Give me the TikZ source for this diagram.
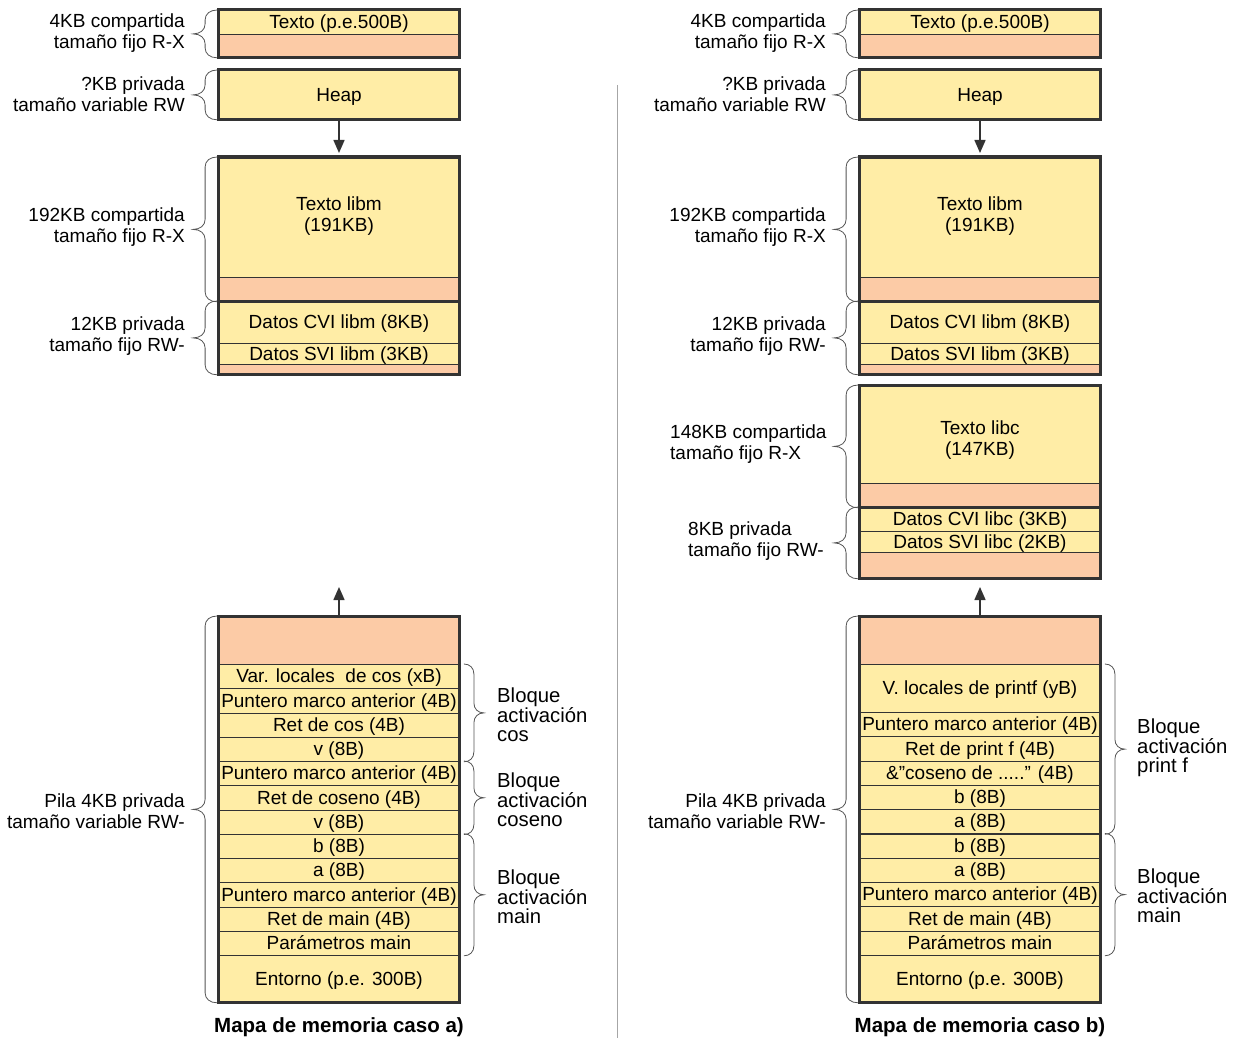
\documentclass[tikz,border=0pt]{standalone}
\usepackage{fontspec}
\setmainfont{Liberation Sans}
\usepackage{xcolor}
\usetikzlibrary{arrows.meta, positioning, decorations.pathreplacing}

\definecolor{amarillo}{HTML}{FFEDA6}
\definecolor{salmon}{HTML}{FCCBA6}
\definecolor{borde}{HTML}{333333}
\definecolor{gris}{HTML}{555555}

\newcommand{\txtcoseno}{\&”coseno de .....” (4B)}

% llave con curvas cortas y punta profunda
\pgfdeclaredecoration{llave}{llave}{%
  \state{llave}[width=+\pgfdecoratedremainingdistance, next state=final]{%
    \pgfpathmoveto{\pgfpointorigin}%
    \pgfpathcurveto{\pgfqpoint{0pt}{.3\pgfdecorationsegmentamplitude}}%
      {\pgfqpoint{4pt}{.5\pgfdecorationsegmentamplitude}}%
      {\pgfqpoint{10pt}{.5\pgfdecorationsegmentamplitude}}%
    {\pgftransformxshift{+.5\pgfdecoratedremainingdistance}%
      \pgfpathlineto{\pgfqpoint{-10pt}{.5\pgfdecorationsegmentamplitude}}%
      \pgfpathcurveto{\pgfqpoint{-4pt}{.5\pgfdecorationsegmentamplitude}}%
        {\pgfqpoint{0pt}{.7\pgfdecorationsegmentamplitude}}%
        {\pgfqpoint{0pt}{\pgfdecorationsegmentamplitude}}%
      \pgfpathcurveto{\pgfqpoint{0pt}{.7\pgfdecorationsegmentamplitude}}%
        {\pgfqpoint{4pt}{.5\pgfdecorationsegmentamplitude}}%
        {\pgfqpoint{10pt}{.5\pgfdecorationsegmentamplitude}}%
    }%
    {\pgftransformxshift{+\pgfdecoratedremainingdistance}%
      \pgfpathlineto{\pgfqpoint{-10pt}{.5\pgfdecorationsegmentamplitude}}%
      \pgfpathcurveto{\pgfqpoint{-4pt}{.5\pgfdecorationsegmentamplitude}}%
        {\pgfqpoint{0pt}{.3\pgfdecorationsegmentamplitude}}%
        {\pgfpointorigin}%
    }%
  }%
  \state{final}{\pgfpathmoveto{\pgfpointdecoratedpathlast}}%
}

\begin{document}
\begin{tikzpicture}[x=1pt, y=-1pt,
  celda/.style={draw=borde, line width=0.8pt, fill=amarillo, minimum width=241pt,
                minimum height=24.25pt, inner sep=0pt, text height=15pt, text depth=2.5pt,
                anchor=north, font=\fontsize{19}{21}\selectfont},
  libre/.style={celda, fill=salmon, text height=0pt, text depth=0pt},
  texto/.style={align=center, inner sep=0pt, font=\fontsize{19}{21}\selectfont},
  marco/.style={draw=borde, line width=3pt},
  llaveiz/.style={draw=gris, line width=0.8pt, decorate, decoration={llave, amplitude=24pt, raise=1pt}},
  llaveder/.style={draw=gris, line width=0.8pt, decorate, decoration={llave, amplitude=20pt, raise=4pt}},
  etiq/.style={align=right, anchor=east, inner sep=0pt, font=\fontsize{19}{21}\selectfont},
  bloque/.style={align=left, anchor=west, inner sep=0pt, font=\fontsize{20.3}{19}\selectfont},
  flecha/.style={-{Triangle[length=13pt, width=11pt]}, line width=1.5pt, draw=borde},
  titulo/.style={inner sep=0pt, font=\bfseries\fontsize{20.5}{22}\selectfont}]
\useasboundingbox (0,0) rectangle (1234,1038);

% pila caso a)
\foreach \t [count=\i] in {Var. locales\ \ de cos (xB), Puntero marco anterior (4B), Ret de cos (4B),
    v (8B), Puntero marco anterior (4B), Ret de coseno (4B), v (8B), b (8B), a (8B),
    Puntero marco anterior (4B), Ret de main (4B), Parámetros main}
  \node[celda] (pa\i) at (339, {664+24.25*(\i-1)}) {\t};
\draw[llaveder] (pa1.north east) -- (pa4.south east);
\node[bloque] at (497, 715) {Bloque\\activación\\cos};
\draw[llaveder] (pa5.north east) -- (pa7.south east);
\node[bloque] at (497, 800) {Bloque\\activación\\coseno};
\draw[llaveder] (pa8.north east) -- (pa12.south east);
\node[bloque] at (497, 896.5) {Bloque\\activación\\main};

% pila caso b)
\node[celda, minimum height=48pt] (pbV) at (980, 664) {V. locales de printf (yB)};
\foreach \t [count=\i] in {Puntero marco anterior (4B), Ret de print f (4B), \txtcoseno,
    b (8B), a (8B), b (8B), a (8B), Puntero marco anterior (4B), Ret de main (4B), Parámetros main}
  \node[celda] (pb\i) at (980, {712+24.3*(\i-1)}) {\t};
\draw[llaveder] (pbV.north east) -- (pb5.south east);
\node[bloque] at (1137, 748) {Bloque\\activación\\print f};
\draw[llaveder] (pb6.north east) -- (pb10.south east);
\node[bloque] at (1137, 896) {Bloque\\activación\\main};

% libc, solo en b)
\node[celda, minimum height=98pt] (libc) at (980, 385) {};
\node[texto] (libcT) at (980, 440) {Texto libc\\(147KB)};
\node[libre, minimum height=24pt] (libcL) at (980, 483) {};
\draw[marco] (libc.north west) rectangle (libcL.south east);
\draw[llaveiz] (libcL.south west) -- (libc.north west);
\node[etiq, anchor=west, align=left] at (670, 444.5) {148KB compartida\\tamaño fijo R-X};
\node[celda, minimum height=24pt] (cvic) at (980, 507) {Datos CVI libc (3KB)};
\node[celda, minimum height=21pt] (svic) at (980, 531) {Datos SVI libc (2KB)};
\node[libre, minimum height=26pt] (datcL) at (980, 552) {};
\draw[marco] (cvic.north west) rectangle (datcL.south east);
\draw[llaveiz] (datcL.south west) -- (cvic.north west);
\node[etiq, anchor=west, align=left] at (688, 541.5) {8KB privada\\tamaño fijo RW-};

% lo comun a los dos mapas
\foreach \lado/\dx in {a/0, b/641} {
  \node[celda, minimum height=24pt] (txt-\lado) at (339+\dx, 10) {Texto (p.e.500B)};
  \node[libre, minimum height=23pt] (txtL-\lado) at (339+\dx, 34) {};
  \draw[marco] (txt-\lado.north west) rectangle (txtL-\lado.south east);
  \draw[llaveiz] (txtL-\lado.south west) -- (txt-\lado.north west);
  \node[etiq] at (185+\dx, 33) {4KB compartida\\tamaño fijo R-X};

  \node[celda, minimum height=49pt] (heap-\lado) at (339+\dx, 70) {Heap};
  \draw[marco] (heap-\lado.north west) rectangle (heap-\lado.south east);
  \draw[llaveiz] (heap-\lado.south west) -- (heap-\lado.north west);
  \node[etiq] at (185+\dx, 94) {?KB privada\\tamaño variable RW};
  \coordinate (hf-\lado) at (339+\dx, 153);
  \draw[flecha] (heap-\lado) -- (hf-\lado);

  \node[celda, minimum height=120pt] (libm-\lado) at (339+\dx, 157) {};
  \node[texto] (libmT-\lado) at (339+\dx, 216) {Texto libm\\(191KB)};
  \node[libre, minimum height=24pt] (libmL-\lado) at (339+\dx, 277) {};
  \draw[marco] (libm-\lado.north west) rectangle (libmL-\lado.south east);
  \draw[llaveiz] (libmL-\lado.south west) -- (libm-\lado.north west);
  \node[etiq] at (185+\dx, 227.5) {192KB compartida\\tamaño fijo R-X};

  \node[celda, minimum height=42pt] (cvim-\lado) at (339+\dx, 301) {Datos CVI libm (8KB)};
  \node[celda, minimum height=21pt] (svim-\lado) at (339+\dx, 343) {Datos SVI libm (3KB)};
  \node[libre, minimum height=10pt] (datmL-\lado) at (339+\dx, 364) {};
  \draw[marco] (cvim-\lado.north west) rectangle (datmL-\lado.south east);
  \draw[llaveiz] (datmL-\lado.south west) -- (cvim-\lado.north west);
  \node[etiq] at (185+\dx, 336.5) {12KB privada\\tamaño fijo RW-};

  \node[libre, minimum height=48pt] (pilaL-\lado) at (339+\dx, 616) {};
  \node[celda, minimum height=47pt] (ent-\lado) at (339+\dx, 955) {Entorno (p.e. 300B)};
  \draw[marco] (pilaL-\lado.north west) rectangle (ent-\lado.south east);
  \draw[llaveiz] (ent-\lado.south west) -- (pilaL-\lado.north west);
  \node[etiq] at (185+\dx, 811.5) {Pila 4KB privada\\tamaño variable RW-};
  \coordinate (pf-\lado) at (339+\dx, 587);
  \draw[flecha] (pilaL-\lado) -- (pf-\lado);

  \node[titulo] at (339+\dx, 1027) {Mapa de memoria caso \lado)};
}

% separacion
\draw[gray!70, line width=0.8pt] (617,85) -- (617,1038);
\end{tikzpicture}
\end{document}
